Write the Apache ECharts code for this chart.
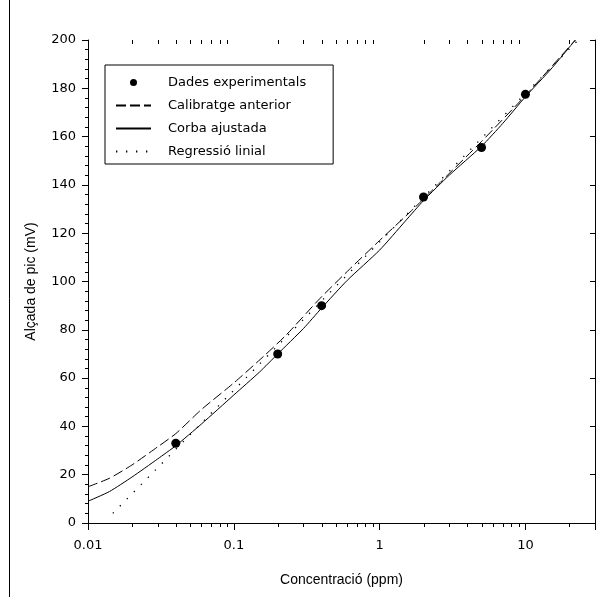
<!DOCTYPE html>
<html>
<head>
  <meta charset="UTF-8">
  <title>Calibratge</title>
  <script src="https://cdn.jsdelivr.net/npm/echarts@6/dist/echarts.min.js"></script>
</head>
<body style="margin:0;background:#fff;">
  <div id="chart" style="width:598px;height:597px;"></div>
  <script type="text/javascript">
    // dades llegides del gràfic
    const expConc = [0.04, 0.2, 0.4, 2, 5, 10];
    const expPic = [33, 70, 90, 135, 155.5, 177.5];

    const antConc = [0.01, 0.014, 0.02, 0.03, 0.04, 0.06, 0.1, 0.16, 0.23, 0.39, 0.62, 1, 1.7, 2.6, 5, 10, 22];
    const antPic = [15, 18.5, 24, 31.5, 37, 47, 58, 69, 78, 93, 105, 117, 130, 141, 158, 177, 200];

    const ajConc = [0.01, 0.014, 0.02, 0.03, 0.04, 0.06, 0.1, 0.15, 0.2, 0.3, 0.4, 0.6, 1, 1.5, 2, 3, 5, 7, 10, 15, 22];
    const ajPic = [9, 13, 19, 26.5, 32, 41, 53, 62.5, 70, 80.5, 89, 100.5, 113, 125, 133.5, 144, 156, 165.5, 176.5, 188, 200];

    const regConc = [0.0148, 23];
    const regPic = [4, 200];

    const minorTicks = [];
    [0.01, 0.1, 1, 10].forEach(d => {
      for (let k = 2; k <= 9; k++) {
        if (d * k <= 30) minorTicks.push(d * k);
      }
    });

    const zip = (a, b) => a.map((v, i) => [v, b[i]]);
    const font = 'Liberation Sans, Arial, sans-serif';
    const font2 = 'DejaVu Sans, sans-serif';

    const chart = echarts.init(document.getElementById('chart'));
    const option = {
      animation: false,
      backgroundColor: '#fff',
      grid: { left: 88, right: 3, top: 40, bottom: 74 },
      graphic: [{
        type: 'line',
        shape: { x1: 9.5, y1: 0, x2: 9.5, y2: 597 },
        style: { stroke: '#000', lineWidth: 1 }
      }],
      legend: {
        orient: 'vertical',
        left: 105,
        top: 65,
        padding: [11, 27, 6, 10],
        borderColor: '#000',
        borderWidth: 1,
        itemWidth: 35,
        itemHeight: 7,
        itemGap: 10,
        textStyle: { color: '#000', fontFamily: font2, fontSize: 13, padding: [0, 0, 0, 12] },
        data: [
          { name: 'Dades experimentals' },
          { name: 'Calibratge anterior', itemStyle: { opacity: 0 } },
          { name: 'Corba ajustada', itemStyle: { opacity: 0 } },
          { name: 'Regressió linial', itemStyle: { opacity: 0 } }
        ]
      },
      xAxis: [{
        type: 'log',
        logBase: 10,
        min: 0.01,
        max: 30,
        name: 'Concentració (ppm)',
        nameLocation: 'middle',
        nameGap: 50,
        nameTextStyle: { color: '#000', fontFamily: font, fontSize: 14 },
        axisLine: { show: true, lineStyle: { color: '#000', width: 1 } },
        axisTick: { show: true, length: 7, lineStyle: { color: '#000' } },
        axisLabel: {
          color: '#000', fontFamily: font2, fontSize: 13, margin: 16,
          formatter: v => {
            const l = Math.log10(v);
            if (Math.abs(l - Math.round(l)) > 1e-6) return '';
            return String(parseFloat(v.toPrecision(6)));
          }
        },
        splitLine: { show: false }
      }, {
        type: 'log',
        logBase: 10,
        min: 0.01,
        max: 30,
        position: 'top',
        axisLine: { show: true, lineStyle: { color: '#000', width: 1 } },
        axisTick: { show: true, inside: true, length: 7, lineStyle: { color: '#000' } },
        axisLabel: { show: false },
        splitLine: { show: false }
      }],
      yAxis: [{
        type: 'value',
        min: 0,
        max: 200,
        interval: 20,
        name: 'Alçada de pic (mV)',
        nameLocation: 'middle',
        nameGap: 50,
        nameTextStyle: { color: '#000', fontFamily: font, fontSize: 14 },
        axisLine: { show: true, lineStyle: { color: '#000', width: 1 } },
        axisTick: { show: true, length: 6, lineStyle: { color: '#000' } },
        minorTick: { show: true, splitNumber: 5, length: 3, lineStyle: { color: '#000' } },
        axisLabel: { color: '#000', fontFamily: font2, fontSize: 13, margin: 12 },
        splitLine: { show: false }
      }, {
        type: 'value',
        min: 0,
        max: 200,
        interval: 20,
        position: 'right',
        axisLine: { show: true, lineStyle: { color: '#000', width: 1 } },
        axisTick: { show: true, inside: true, length: 5, lineStyle: { color: '#000' } },
        axisLabel: { show: false },
        splitLine: { show: false }
      }],
      series: [
        {
          name: 'Dades experimentals',
          type: 'scatter',
          symbol: 'circle',
          symbolSize: 9,
          itemStyle: { color: '#000', opacity: 1 },
          data: zip(expConc, expPic),
          z: 5
        },
        {
          name: 'Calibratge anterior',
          type: 'line',
          smooth: 0.2,
          showSymbol: false,
          symbol: 'none',
          lineStyle: { color: '#000', width: 1, type: [10, 4] },
          itemStyle: { color: '#000' },
          data: zip(antConc, antPic)
        },
        {
          name: 'Corba ajustada',
          type: 'line',
          smooth: 0.2,
          showSymbol: false,
          symbol: 'none',
          lineStyle: { color: '#000', width: 1 },
          itemStyle: { color: '#000' },
          data: zip(ajConc, ajPic)
        },
        {
          name: 'Regressió linial',
          type: 'line',
          showSymbol: false,
          symbol: 'none',
          lineStyle: { color: '#000', width: 1.3, type: [1.3, 8.7] },
          itemStyle: { color: '#000' },
          data: zip(regConc, regPic)
        },
        {
          // ticks menors de l'eix logarítmic (a baix cap enfora, a dalt cap endins)
          type: 'custom',
          silent: true,
          clip: false,
          data: minorTicks,
          encode: { x: 0 },
          renderItem: (params, api) => {
            const v = api.value(0);
            const b = api.coord([v, 0]);
            const t = api.coord([v, 200]);
            const x = Math.round(b[0]) + 0.5;
            return {
              type: 'group',
              children: [
                { type: 'line', shape: { x1: x, y1: b[1], x2: x, y2: b[1] + 4 }, style: { stroke: '#000', lineWidth: 1 } },
                { type: 'line', shape: { x1: x, y1: t[1], x2: x, y2: t[1] + 4 }, style: { stroke: '#000', lineWidth: 1 } }
              ]
            };
          }
        }
      ]
    };
    chart.setOption(option);
  </script>
</body>
</html>
